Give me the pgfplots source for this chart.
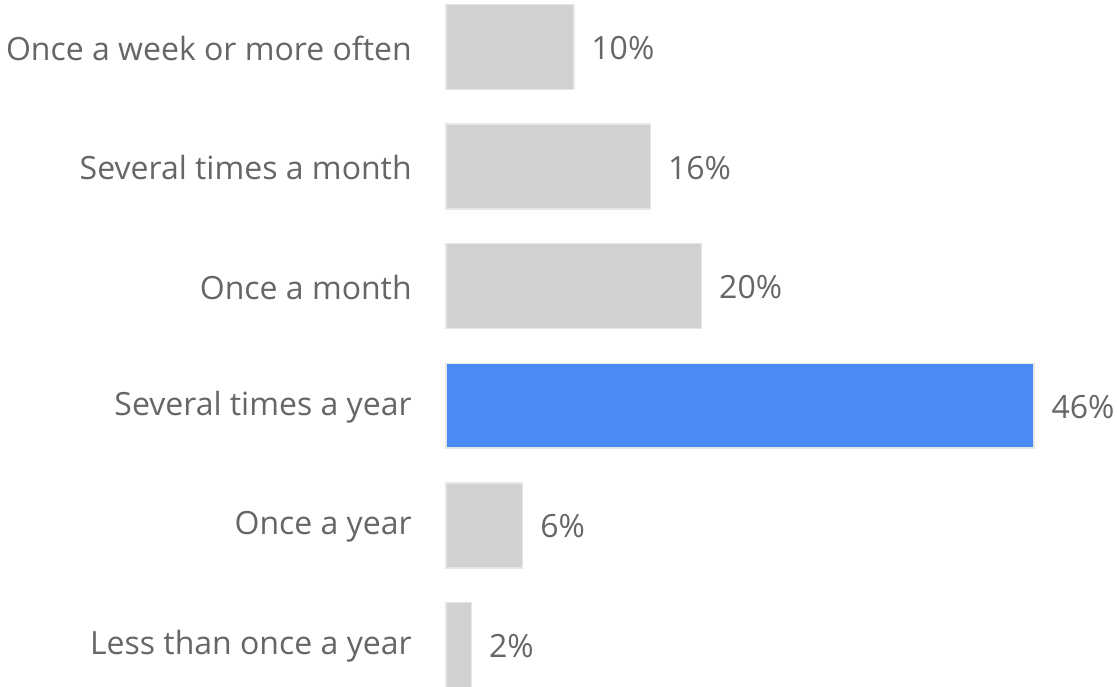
\documentclass[border=0pt]{standalone}
\usepackage{fontspec}
\setmainfont{Open Sans}
\usepackage{pgfplots}
\pgfplotsset{compat=1.18}
\definecolor{txt}{HTML}{666666}
\definecolor{barg}{HTML}{D1D1D1}
\definecolor{barb}{HTML}{4A8AF4}
\definecolor{edge}{HTML}{E6E6E6}
\begin{document}
\begin{tikzpicture}
\useasboundingbox (0pt,0pt) rectangle (1117pt,687pt);
\begin{axis}[
  scale only axis,
  anchor=north west, at={(446pt,683.06pt)},
  width=588pt, height=684.1pt,
  xmin=0, xmax=46,
  ymin=-0.36, ymax=5.36,
  y dir=reverse,
  xbar, bar shift=0pt, bar width=0.71,
  axis line style={draw=none},
  tick style={draw=none},
  xtick=\empty,
  ytick={0,1,2,3,4,5},
  yticklabels={Once a week or more often,Several times a month,Once a month,Several times a year,Once a year,Less than once a year},
  yticklabel style={font=\fontsize{32}{38}\selectfont, text=txt, xshift=-26.5pt, yshift=-1pt},
  nodes near coords={\pgfmathprintnumber{\pgfplotspointmeta}\%},
  point meta=x,
  nodes near coords style={font=\fontsize{32}{38}\selectfont, text=txt, anchor=west, xshift=13.5pt, yshift=-1pt, /pgf/number format/assume math mode=true},
  clip=false,
]
\addplot[fill=barg, draw=edge, line width=1.5pt] coordinates {(10,0) (16,1) (20,2) (6,4) (2,5)};
\addplot[fill=barb, draw=edge, line width=1.5pt] coordinates {(46,3)};
\end{axis}
\end{tikzpicture}
\end{document}
